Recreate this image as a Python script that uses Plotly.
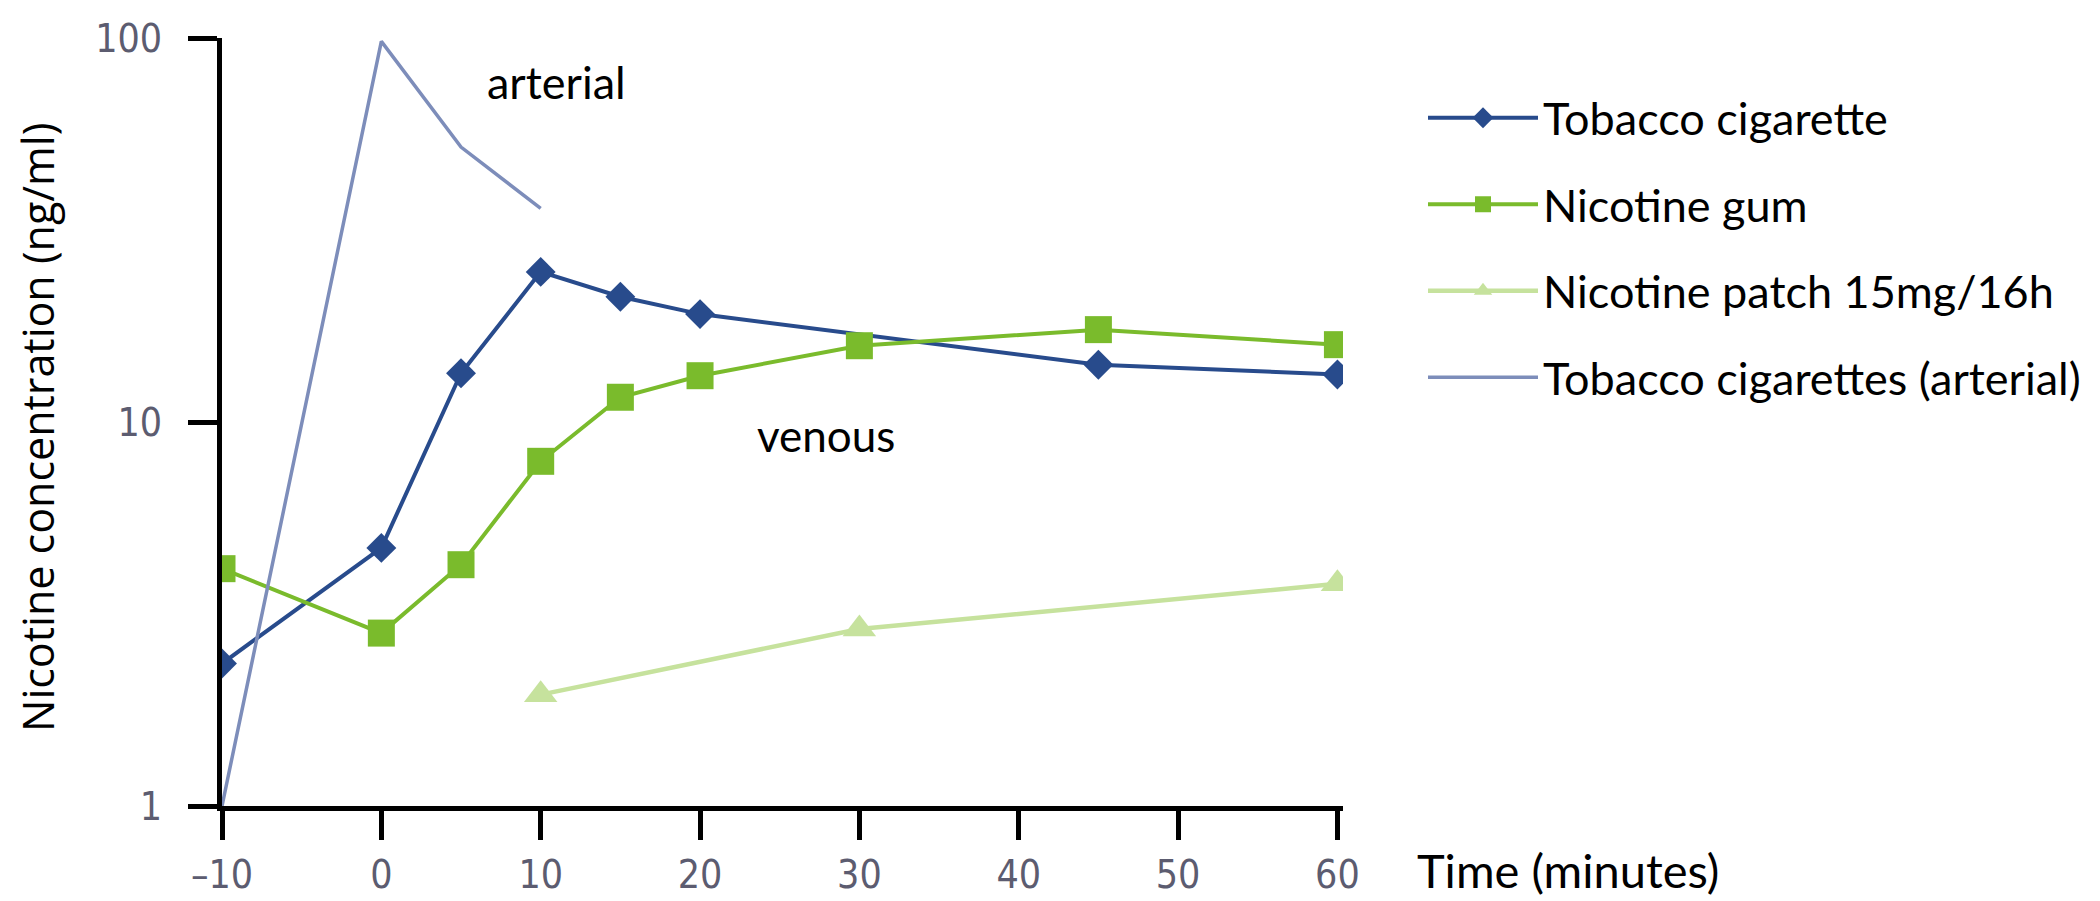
import plotly.graph_objects as go

# ---- data ----
time_tobacco = [-10, 0, 5, 10, 15, 20, 45, 60]
conc_tobacco = [2.35, 4.7, 13.4, 24.6, 21.2, 19.1, 14.1, 13.3]

time_gum = [-10, 0, 5, 10, 15, 20, 30, 45, 60]
conc_gum = [4.15, 2.82, 4.25, 7.9, 11.6, 13.2, 15.8, 17.4, 15.9]

time_patch = [10, 30, 60]
conc_patch = [1.95, 2.89, 3.79]

time_arterial = [-10, 0, 5, 10]
conc_arterial = [1.0, 98, 52, 36]

x_ticks = [-10, 0, 10, 20, 30, 40, 50, 60]
x_tick_labels = ["\u201310", "0", "10", "20", "30", "40", "50", "60"]
y_ticks = [1, 10, 100]
y_tick_labels = ["1", "10", "100"]

names = ["Tobacco cigarette", "Nicotine gum", "Nicotine patch 15mg/16h",
         "Tobacco cigarettes (arterial)"]

# ---- styling / layout ----
# The page body adds an 8px margin; positions below are page pixels.
OFF = 8
W, H = 2100 - OFF, 901 - OFF
L, R, T, B = 222, 1343, 38, 806   # plot area in page pixels

def px_x(p):
    return (p - L) / (R - L)

def px_y(p):
    return (B - p) / (B - T)

TEXT_FONT = "Lato, Open Sans, sans-serif"
TICK_FONT = "Liberation Sans Narrow, DejaVu Sans Condensed, sans-serif"

BLUE = "#284B8C"
GREEN = "#7ABB2C"
LIGHT_GREEN = "#C6E29D"
ARTERIAL = "#7D8DBA"

fig = go.Figure()
fig.add_trace(go.Scatter(
    x=time_tobacco, y=conc_tobacco, name=names[0], mode="lines+markers",
    legendgroup="a",
    line=dict(color=BLUE, width=4),
    marker=dict(symbol="diamond", size=23, color=BLUE)))
fig.add_trace(go.Scatter(
    x=time_gum, y=conc_gum, name=names[1], mode="lines+markers",
    legendgroup="b",
    line=dict(color=GREEN, width=4),
    marker=dict(symbol="square", size=27, color=GREEN)))
fig.add_trace(go.Scatter(
    x=time_patch, y=conc_patch, name=names[2], mode="lines+markers",
    legendgroup="c",
    line=dict(color=LIGHT_GREEN, width=4.5),
    marker=dict(symbol="triangle-up", size=29, color=LIGHT_GREEN)))
fig.add_trace(go.Scatter(
    x=time_arterial, y=conc_arterial, name=names[3], mode="lines",
    legendgroup="d",
    line=dict(color=ARTERIAL, width=3.5)))

fig.update_layout(
    width=W, height=H,
    margin=dict(l=L - OFF, r=W - (R - OFF), t=T - OFF, b=H - (B - OFF),
                pad=0, autoexpand=False),
    paper_bgcolor="white", plot_bgcolor="white",
    font=dict(family=TEXT_FONT, color="black"),
    showlegend=True,
    legend=dict(
        x=px_x(1423), y=px_y(82), xanchor="left", yanchor="top",
        font=dict(family=TEXT_FONT, size=45, color="black"),
        traceorder="grouped", tracegroupgap=25,
        itemwidth=110, bgcolor="rgba(0,0,0,0)",
    ),
    xaxis=dict(
        range=[-10, 60.35], showgrid=False, zeroline=False, automargin=False,
        showline=True, linecolor="black", linewidth=5,
        ticks="outside", ticklen=29, tickwidth=5, tickcolor="black",
        tickvals=x_ticks, ticktext=x_tick_labels,
        tickfont=dict(family=TICK_FONT, size=39, color="#5c5c70"),
        ticklabelstandoff=1,
    ),
    yaxis=dict(
        type="log", range=[0, 2], showgrid=False, zeroline=False, automargin=False,
        showline=True, linecolor="black", linewidth=5,
        ticks="outside", ticklen=29, tickwidth=5, tickcolor="black",
        tickvals=y_ticks, ticktext=y_tick_labels,
        tickfont=dict(family=TICK_FONT, size=39, color="#5c5c70"),
        ticklabelstandoff=18,
    ),
    annotations=[
        dict(text="Nicotine concentration (ng/ml)", textangle=-90,
             xref="paper", yref="paper", x=px_x(37), y=px_y(428),
             xanchor="center", yanchor="middle", showarrow=False,
             font=dict(family="Open Sans, sans-serif", size=43, color="black")),
        dict(text="Time (minutes)", xref="paper", yref="paper",
             x=px_x(1415), y=px_y(870), xanchor="left", yanchor="middle",
             showarrow=False, font=dict(family=TEXT_FONT, size=47, color="black")),
        dict(text="arterial", xref="paper", yref="paper",
             x=px_x(556), y=px_y(82), xanchor="center", yanchor="middle",
             showarrow=False, font=dict(family=TEXT_FONT, size=45, color="black")),
        dict(text="venous", xref="paper", yref="paper",
             x=px_x(826), y=px_y(435), xanchor="center", yanchor="middle",
             showarrow=False, font=dict(family=TEXT_FONT, size=44, color="black")),
    ],
)

fig.write_html("out.html")
